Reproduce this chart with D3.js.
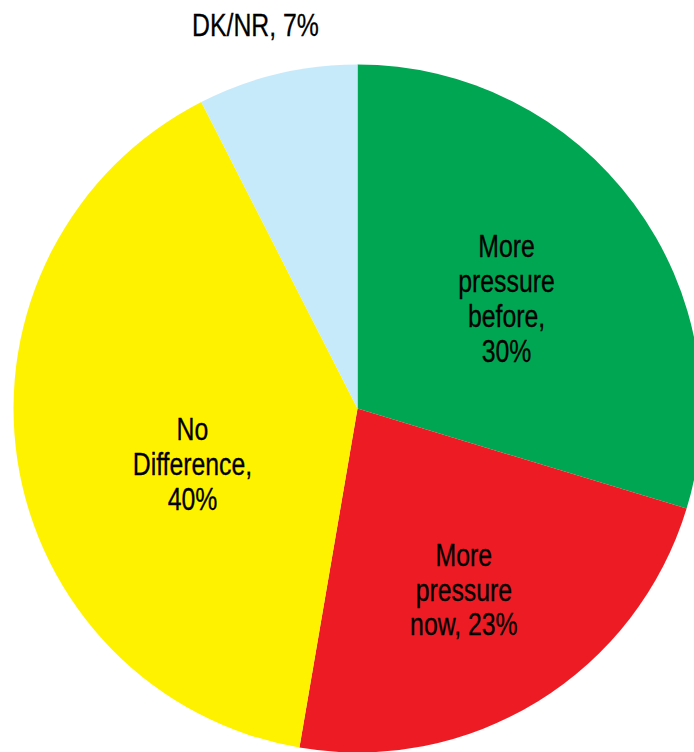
<!DOCTYPE html>
<html>
<head>
<meta charset="utf-8">
<script src="https://cdn.jsdelivr.net/npm/d3@7"></script>
<style>
  html, body { margin: 0; padding: 0; background: #fff; }
  svg text {
    font-family: "Liberation Sans", Arial, sans-serif;
    font-size: 31px;
    fill: #000;
    stroke: #000;
    stroke-width: 0.3px;
  }
</style>
</head>
<body>
<svg id="chart"></svg>
<script>
// slices, clockwise from 12 o'clock
const categories = ['More pressure before', 'More pressure now', 'No Difference', 'DK/NR'];
const shares = [29.7, 23.0, 39.8, 7.5];
const labelLines = [
    ['More', 'pressure', 'before,', '30%'],
    ['More', 'pressure', 'now, 23%'],
    ['No', 'Difference,', '40%'],
    ['DK/NR, 7%']
];
const colors = ['#00a651', '#ed1c24', '#fff200', '#c7eafb'];

const width = 694, height = 752;
const cx = 357.5, cy = 408.5, radius = 344;
const lineHeight = 35;
// no narrow font installed, so squeeze the regular one
const squeeze = 0.8;

// per-slice nudges from the label centroid
const nudges = [[-3, 3], [7, 20], [22, 27], [-15, -21]];

const data = categories.map((c, i) => ({ name: c, value: shares[i], i: i }));

const svg = d3.select('#chart')
    .attr('width', width)
    .attr('height', height);

const g = svg.append('g')
    .attr('transform', `translate(${cx}, ${cy})`);

const pie = d3.pie()
    .sort(null)
    .value(d => d.value);

const arc = d3.arc()
    .innerRadius(0)
    .outerRadius(radius);

const innerLabelArc = d3.arc()
    .innerRadius(radius * 0.55)
    .outerRadius(radius * 0.55);

const outerLabelArc = d3.arc()
    .innerRadius(radius + 29)
    .outerRadius(radius + 29);

const arcs = pie(data);

g.selectAll('path.slice')
    .data(arcs)
    .enter()
    .append('path')
    .attr('class', 'slice')
    .attr('d', arc)
    .style('fill', d => colors[d.data.i]);

const labels = g.selectAll('text.label')
    .data(arcs)
    .enter()
    .append('text')
    .attr('class', 'label')
    .attr('text-anchor', 'middle')
    .attr('transform', function(d) {
        var c = d.data.i === 3 ? outerLabelArc.centroid(d) : innerLabelArc.centroid(d);
        var n = nudges[d.data.i];
        return `translate(${c[0] + n[0]}, ${c[1] + n[1]}) scale(${squeeze}, 1)`;
    });

labels.each(function(d) {
    var lines = labelLines[d.data.i];
    var first = -(lines.length - 1) * lineHeight / 2 + 11;
    d3.select(this).selectAll('tspan')
        .data(lines)
        .enter()
        .append('tspan')
        .attr('x', 0)
        .attr('y', (l, j) => first + j * lineHeight)
        .text(l => l);
});
</script>
</body>
</html>
